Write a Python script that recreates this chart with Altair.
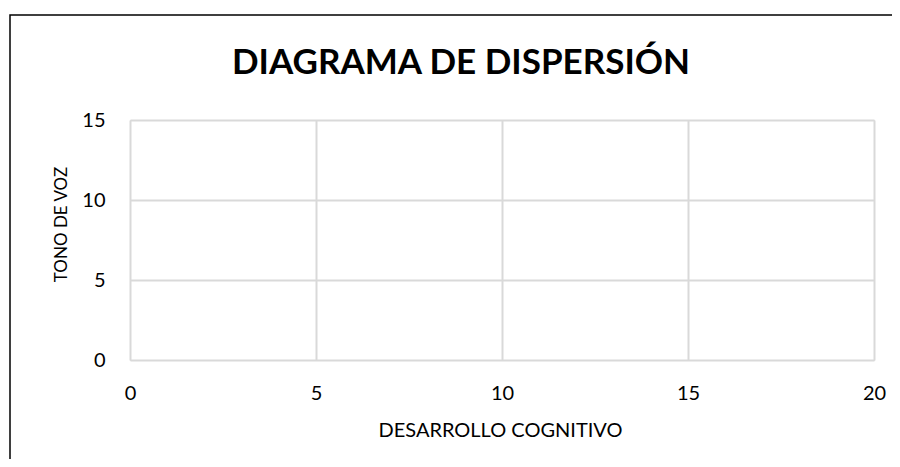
import altair as alt
import pandas as pd

# Empty scatter: no data points in the reference
x_values = []
y_values = []
x_ticks = [0, 5, 10, 15, 20]
y_ticks = [0, 5, 10, 15]
title_text = "DIAGRAMA DE DISPERSIÓN"
x_title = "DESARROLLO COGNITIVO"
y_title = "TONO DE VOZ"

df = pd.DataFrame({"x": pd.Series(x_values, dtype=float),
                   "y": pd.Series(y_values, dtype=float)})

FONT = "Lato"

points = alt.Chart(df).mark_point(color="#4472c4", filled=True, size=60).encode(
    x=alt.X("x:Q", scale=alt.Scale(domain=[0, 20], nice=False, zero=False),
            axis=alt.Axis(values=x_ticks, title=x_title, grid=True, domain=False,
                          ticks=False, tickSize=0, labelPadding=33,
                          labelBaseline="middle", labelFontSize=20, labelFlush=False,
                          labelFont=FONT, labelColor="#000000",
                          titleFont=FONT, titleFontSize=20, titleFontWeight="normal",
                          titleColor="#000000", titleX=370, titleY=70,
                          titleBaseline="middle", titleAlign="center",
                          gridColor="#d9d9d9", gridWidth=2)),
    y=alt.Y("y:Q", scale=alt.Scale(domain=[0, 15], nice=False, zero=False),
            axis=alt.Axis(values=y_ticks, title=y_title, grid=True, domain=False,
                          ticks=False, tickSize=0, labelPadding=25, labelFlush=False,
                          labelFontSize=20, labelFont=FONT, labelColor="#000000",
                          titleFont=FONT, titleFontSize=17, titleFontWeight="normal",
                          titleColor="#000000", titleX=-69, titleY=104,
                          titleBaseline="middle", titleAlign="center",
                          gridColor="#d9d9d9", gridWidth=2)),
)

border = alt.Chart(alt.Data(values=[{"a": 1}])).mark_rect(
    fill=None, stroke="#000000", strokeWidth=1.5, fillOpacity=0
).encode(
    x=alt.value(-120), x2=alt.value(900),
    y=alt.value(-105), y2=alt.value(600),
)

title = alt.Chart(alt.Data(values=[{"t": title_text}])).mark_text(
    font=FONT, fontSize=35, fontWeight="bold", color="#000000",
    align="center", baseline="alphabetic"
).encode(
    text="t:N", x=alt.value(331), y=alt.value(-46),
)

chart = alt.layer(border, points, title).properties(
    width=744, height=240,
    autosize=alt.AutoSizeParams(type="none"),
    padding={"left": 122, "top": 112, "right": 18, "bottom": 99},
).configure_view(stroke=None).configure(background="white")

chart.save("out.html", embed_options={"renderer": "svg", "actions": False})
